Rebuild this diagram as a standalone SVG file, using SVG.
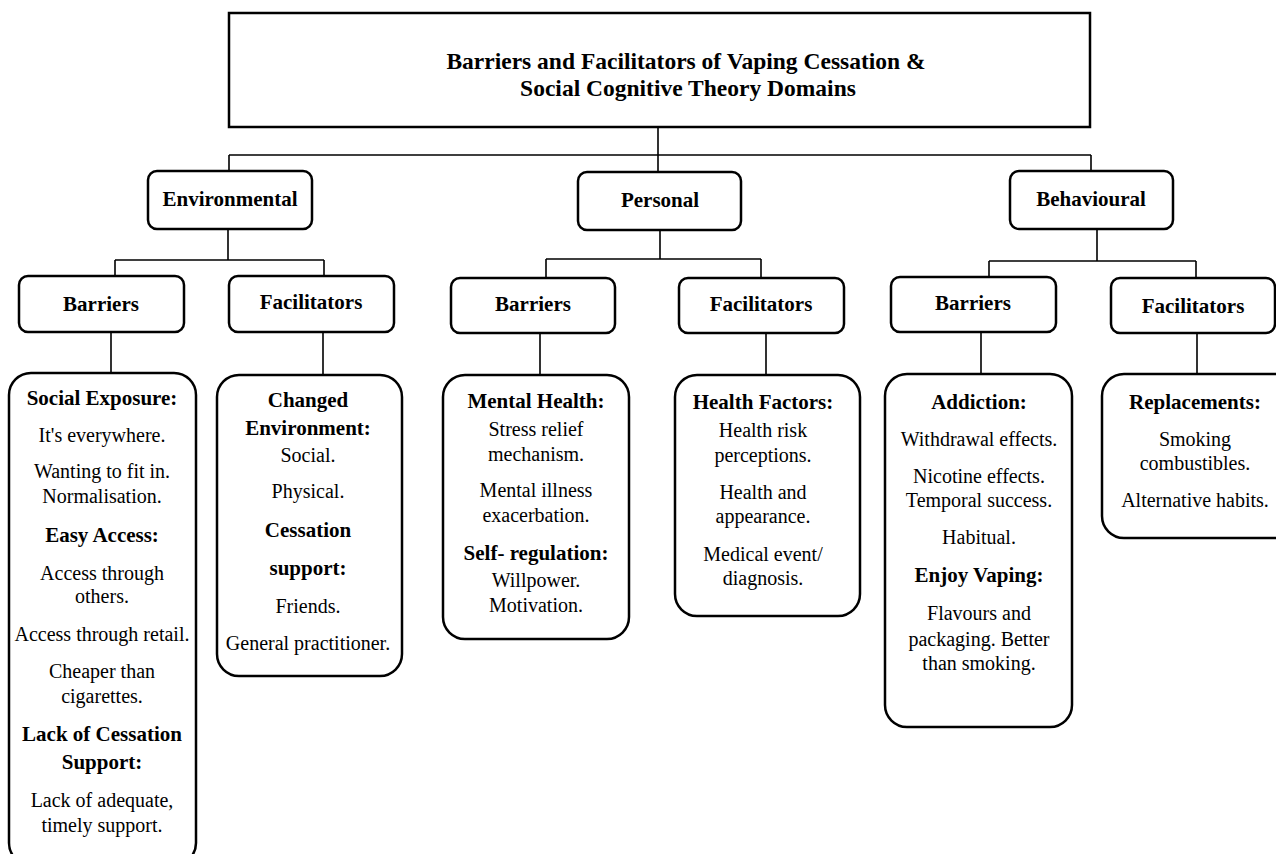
<svg xmlns="http://www.w3.org/2000/svg" width="1276" height="854" viewBox="0 0 1276 854">
<style>
.box{fill:#fff;stroke:#000;stroke-width:2.5}
.conn{fill:none;stroke:#000;stroke-width:1.6}
text{font-family:"Liberation Serif","Times New Roman",serif;fill:#000;text-anchor:middle}
.t{font-size:23.5px;font-weight:bold}
.l1{font-size:21px;font-weight:bold}
.l2{font-size:21px;font-weight:bold}
.h{font-size:21px;font-weight:bold}
.b{font-size:20px}
</style>
<rect width="1276" height="854" fill="#fff"/>
<g id="connectors">
<path class="conn" d="M658 127V155M229 155H1091M229 155V183M658 155V172M1091 155V171"/>
<path class="conn" d="M228 229V260M115 260H324M115 260V276M324 260V276"/>
<path class="conn" d="M660 230V259M546 259H761M546 259V278M761 259V278"/>
<path class="conn" d="M1097 229V261M989 261H1196M989 261V277M1196 261V278"/>
<path class="conn" d="M111 332V373M323 332V375M540 333V375M766 333V375M981 332V374M1197 333V374"/>
</g>
<g id="root">
<rect class="box" x="229" y="13" width="861" height="114" stroke-width="3"/>
<text class="t" x="686" y="69">Barriers and Facilitators of Vaping Cessation &amp;</text>
<text class="t" x="688" y="96">Social Cognitive Theory Domains</text>
</g>
<g id="environmental">
<rect class="box" x="148" y="171" width="164" height="58" rx="9"/>
<text class="l1" x="230" y="206">Environmental</text>
</g>
<g id="personal">
<rect class="box" x="578" y="172" width="163" height="58" rx="9"/>
<text class="l1" x="660" y="207">Personal</text>
</g>
<g id="behavioural">
<rect class="box" x="1010" y="171" width="163" height="58" rx="9"/>
<text class="l1" x="1091" y="206">Behavioural</text>
</g>
<g id="env-barriers">
<rect class="box" x="19" y="276" width="165" height="56" rx="9"/>
<text class="l2" x="101" y="311">Barriers</text>
</g>
<g id="env-facilitators">
<rect class="box" x="229" y="276" width="165" height="56" rx="9"/>
<text class="l2" x="311" y="309">Facilitators</text>
</g>
<g id="per-barriers">
<rect class="box" x="451" y="278" width="164" height="55" rx="9"/>
<text class="l2" x="533" y="311">Barriers</text>
</g>
<g id="per-facilitators">
<rect class="box" x="679" y="278" width="165" height="55" rx="9"/>
<text class="l2" x="761" y="311">Facilitators</text>
</g>
<g id="beh-barriers">
<rect class="box" x="891" y="277" width="165" height="55" rx="9"/>
<text class="l2" x="973" y="310">Barriers</text>
</g>
<g id="beh-facilitators">
<rect class="box" x="1111" y="278" width="164" height="55" rx="9"/>
<text class="l2" x="1193" y="313">Facilitators</text>
</g>
<g id="env-barriers-content">
<rect class="box" x="9" y="373" width="187" height="492" rx="22"/>
<text class="h" x="102" y="405">Social Exposure:</text>
<text class="b" x="102" y="442">It's everywhere.</text>
<text class="b" x="102" y="478">Wanting to fit in.</text>
<text class="b" x="102" y="503">Normalisation.</text>
<text class="h" x="102" y="542">Easy Access:</text>
<text class="b" x="102" y="580">Access through</text>
<text class="b" x="102" y="603">others.</text>
<text class="b" x="102" y="641">Access through retail.</text>
<text class="b" x="102" y="678">Cheaper than</text>
<text class="b" x="102" y="703">cigarettes.</text>
<text class="h" x="102" y="741">Lack of Cessation</text>
<text class="h" x="102" y="769">Support:</text>
<text class="b" x="102" y="807">Lack of adequate,</text>
<text class="b" x="102" y="832">timely support.</text>
</g>
<g id="env-facilitators-content">
<rect class="box" x="217" y="375" width="185" height="301" rx="22"/>
<text class="h" x="308" y="407">Changed</text>
<text class="h" x="308" y="435">Environment:</text>
<text class="b" x="308" y="462">Social.</text>
<text class="b" x="308" y="498">Physical.</text>
<text class="h" x="308" y="537">Cessation</text>
<text class="h" x="308" y="575">support:</text>
<text class="b" x="308" y="613">Friends.</text>
<text class="b" x="308" y="650">General practitioner.</text>
</g>
<g id="per-barriers-content">
<rect class="box" x="443" y="375" width="186" height="264" rx="22"/>
<text class="h" x="536" y="408">Mental Health:</text>
<text class="b" x="536" y="436">Stress relief</text>
<text class="b" x="536" y="461">mechanism.</text>
<text class="b" x="536" y="497">Mental illness</text>
<text class="b" x="536" y="522">exacerbation.</text>
<text class="h" x="536" y="560">Self- regulation:</text>
<text class="b" x="536" y="587">Willpower.</text>
<text class="b" x="536" y="612">Motivation.</text>
</g>
<g id="per-facilitators-content">
<rect class="box" x="675" y="375" width="185" height="241" rx="22"/>
<text class="h" x="763" y="409">Health Factors:</text>
<text class="b" x="763" y="437">Health risk</text>
<text class="b" x="763" y="462">perceptions.</text>
<text class="b" x="763" y="499">Health and</text>
<text class="b" x="763" y="523">appearance.</text>
<text class="b" x="763" y="561">Medical event/</text>
<text class="b" x="763" y="585">diagnosis.</text>
</g>
<g id="beh-barriers-content">
<rect class="box" x="885" y="374" width="187" height="353" rx="22"/>
<text class="h" x="979" y="409">Addiction:</text>
<text class="b" x="979" y="446">Withdrawal effects.</text>
<text class="b" x="979" y="483">Nicotine effects.</text>
<text class="b" x="979" y="507">Temporal success.</text>
<text class="b" x="979" y="544">Habitual.</text>
<text class="h" x="979" y="582">Enjoy Vaping:</text>
<text class="b" x="979" y="620">Flavours and</text>
<text class="b" x="979" y="646">packaging. Better</text>
<text class="b" x="979" y="670">than smoking.</text>
</g>
<g id="beh-facilitators-content">
<rect class="box" x="1102" y="374" width="200" height="164" rx="22"/>
<text class="h" x="1195" y="409">Replacements:</text>
<text class="b" x="1195" y="446">Smoking</text>
<text class="b" x="1195" y="470">combustibles.</text>
<text class="b" x="1195" y="507">Alternative habits.</text>
</g>
</svg>
